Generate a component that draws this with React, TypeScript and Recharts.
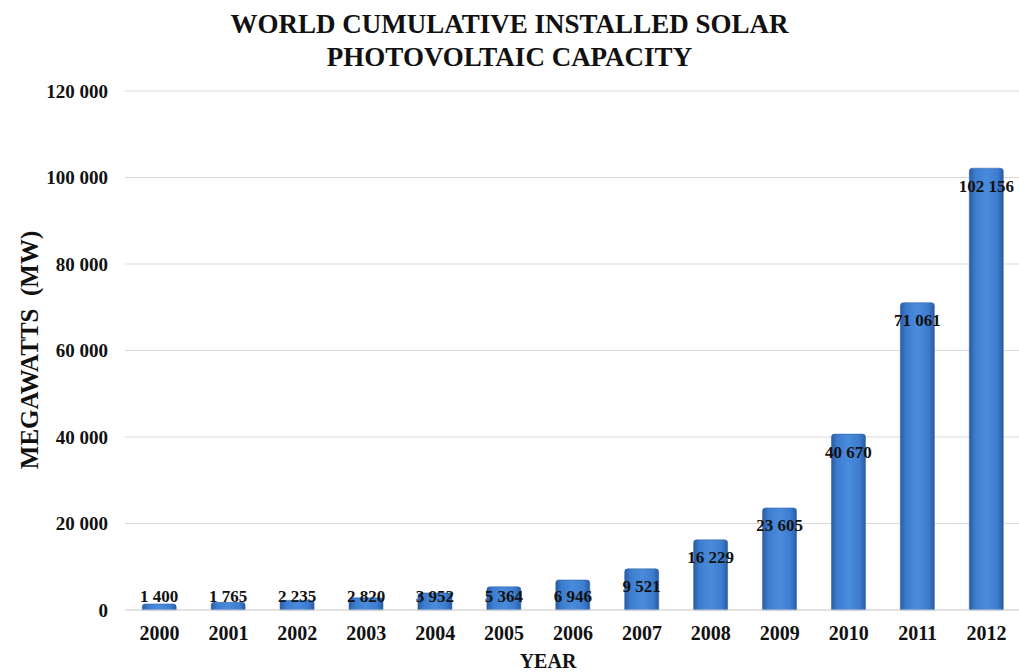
import { BarChart, Bar, XAxis, YAxis, CartesianGrid, LabelList } from 'recharts';

const years = ['2000', '2001', '2002', '2003', '2004', '2005', '2006', '2007', '2008', '2009', '2010', '2011', '2012'];
const capacityMW = [1400, 1765, 2235, 2820, 3952, 5364, 6946, 9521, 16229, 23605, 40670, 71061, 102156];
const yTicks = [0, 20000, 40000, 60000, 80000, 100000, 120000];

const data = years.map((year, i) => ({ year, mw: capacityMW[i] }));

const serif = '"Liberation Serif", "Times New Roman", serif';

const fmt = (v: number) => String(v).replace(/\B(?=(\d{3})+(?!\d))/g, ' ');

function BarValue(props: any) {
  const { x, y, width, height, value } = props;
  const cy = Math.min(y + 18, y + height - 14);
  return (
    <text
      x={x + width / 2}
      y={cy}
      textAnchor="middle"
      dominantBaseline="central"
      fontFamily={serif}
      fontWeight="bold"
      fontSize={17}
      fill="#111"
    >
      {fmt(value)}
    </text>
  );
}

export default function App() {
  return (
    <div style={{ position: 'absolute', left: 0, top: 0, width: 1019, height: 672, overflow: 'hidden', background: '#fff' }}>
      <div
        style={{
          position: 'absolute',
          left: 0,
          top: 8,
          width: 1019,
          textAlign: 'center',
          fontFamily: serif,
          fontWeight: 'bold',
          fontSize: 27,
          lineHeight: '33px',
          color: '#111',
        }}
      >
        WORLD CUMULATIVE INSTALLED SOLAR
        <br />
        PHOTOVOLTAIC CAPACITY
      </div>
      <div
        style={{
          position: 'absolute',
          left: 30,
          top: 350,
          transform: 'translate(-50%, -50%) rotate(-90deg)',
          whiteSpace: 'nowrap',
          fontFamily: serif,
          fontWeight: 'bold',
          fontSize: 25,
          color: '#111',
        }}
      >
        MEGAWATTS &nbsp;(MW)
      </div>
      <div
        style={{
          position: 'absolute',
          left: 548,
          top: 661,
          transform: 'translate(-50%, -50%)',
          fontFamily: serif,
          fontWeight: 'bold',
          fontSize: 20,
          color: '#111',
        }}
      >
        YEAR
      </div>
      <div style={{ position: 'absolute', left: 0, top: 0 }}>
        <BarChart
          width={1025}
          height={672}
          data={data}
          margin={{ top: 91, right: 4, left: 0, bottom: 32 }}
          barCategoryGap="25%"
        >
          <defs>
            <linearGradient id="barFill" x1="0" y1="0" x2="1" y2="0">
              <stop offset="0%" stopColor="#2a5ca3" />
              <stop offset="18%" stopColor="#3d7dcf" />
              <stop offset="50%" stopColor="#4a8bdc" />
              <stop offset="82%" stopColor="#3d7dcf" />
              <stop offset="100%" stopColor="#2a5ca3" />
            </linearGradient>
          </defs>
          <CartesianGrid vertical={false} stroke="#d9d9d9" />
          <XAxis
            dataKey="year"
            axisLine={{ stroke: '#d9d9d9' }}
            tickLine={false}
            tickSize={0}
            tickMargin={16}
            height={30}
            tick={{ fontFamily: serif, fontWeight: 'bold', fontSize: 20, fill: '#111' }}
            interval={0}
          />
          <YAxis
            domain={[0, 120000]}
            ticks={yTicks}
            width={125}
            axisLine={false}
            tickLine={false}
            tickSize={0}
            tickMargin={17}
            tickFormatter={fmt}
            tick={{ fontFamily: serif, fontWeight: 'bold', fontSize: 19, fill: '#111' }}
          />
          <Bar dataKey="mw" fill="url(#barFill)" stroke="#2a5ca3" strokeWidth={0.5} radius={[3, 3, 0, 0]} isAnimationActive={false}>
            <LabelList dataKey="mw" content={BarValue} />
          </Bar>
        </BarChart>
      </div>
    </div>
  );
}
